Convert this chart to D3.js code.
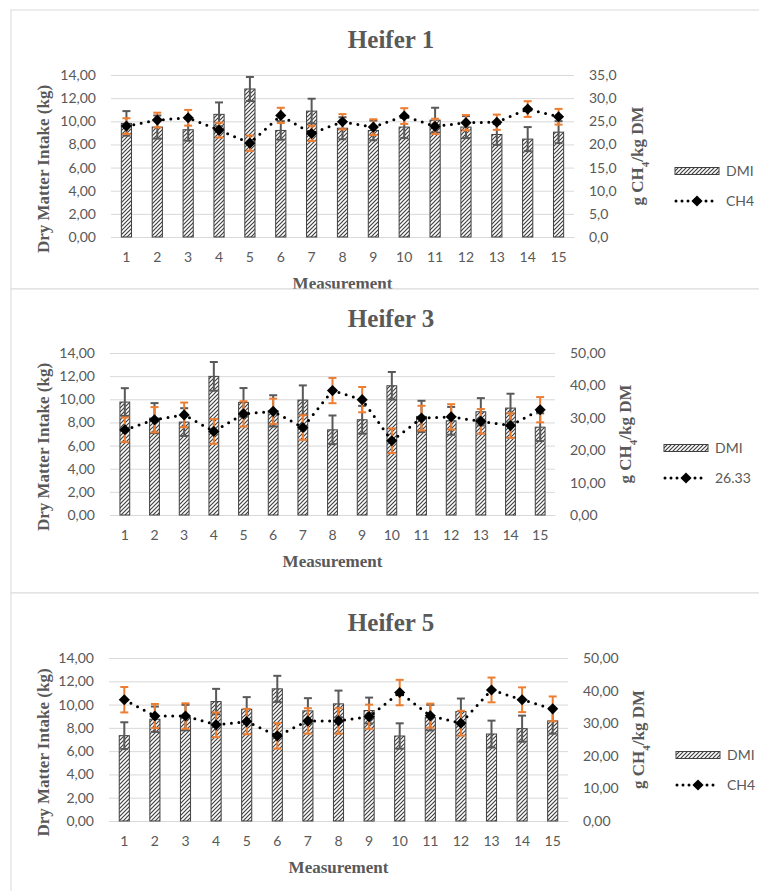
<!DOCTYPE html>
<html lang="en">
<head>
<meta charset="UTF-8">
<title>Heifer DMI and CH4</title>
<style>
    body { margin: 0; background: #fff; }
    svg text { fill: #595959; }
    .tick-label { font-family: Lato, "Open Sans", sans-serif; font-size: 14px; }
    .axis-title { font-family: "Liberation Serif", "DejaVu Serif", serif; font-weight: bold; font-size: 17px; }
    .chart-title { font-family: "Liberation Serif", "DejaVu Serif", serif; font-weight: bold; font-size: 25px; }
</style>
</head>
<body>
<svg id="chart"></svg>

<script src="https://cdn.jsdelivr.net/npm/d3@7"></script>
<script>
    // Data
    const measurements = ["1", "2", "3", "4", "5", "6", "7", "8", "9", "10", "11", "12", "13", "14", "15"];
    const dmiTicks = [0, 2, 4, 6, 8, 10, 12, 14];

    const heifer1Dmi = [9.82, 9.50, 9.27, 10.60, 12.79, 9.21, 10.88, 9.40, 9.21, 9.50, 10.10, 9.50, 8.86, 8.46, 9.06];
    const heifer1DmiErr = [1.06, 1.00, 0.95, 1.03, 1.04, 0.80, 1.07, 0.95, 0.85, 0.95, 1.07, 0.95, 0.90, 1.04, 0.95];
    const heifer1Ch4 = [23.96, 25.26, 25.76, 23.10, 20.28, 26.27, 22.37, 24.90, 23.74, 26.13, 23.90, 24.70, 24.80, 27.64, 25.98];
    const heifer1Ch4Err = [1.70, 1.60, 1.70, 1.60, 1.65, 1.65, 1.65, 1.65, 1.70, 1.70, 1.65, 1.65, 1.65, 1.70, 1.70];
    const heifer1Ch4Ticks = [0, 5, 10, 15, 20, 25, 30, 35];

    const heifer3Dmi = [9.76, 8.37, 8.03, 11.98, 9.73, 9.00, 9.93, 7.36, 8.23, 11.17, 8.52, 8.14, 8.92, 9.24, 7.59];
    const heifer3DmiErr = [1.20, 1.30, 1.20, 1.24, 1.24, 1.35, 1.27, 1.24, 1.20, 1.19, 1.35, 1.20, 1.18, 1.24, 1.20];
    const heifer3Ch4 = [26.3, 29.4, 30.9, 25.8, 31.2, 32.0, 27.0, 38.4, 35.6, 22.9, 29.9, 30.3, 28.9, 27.6, 32.5];
    const heifer3Ch4Err = [3.8, 3.9, 3.8, 3.8, 3.9, 3.9, 3.8, 3.9, 3.9, 3.8, 3.8, 3.9, 3.8, 3.8, 3.9];
    const heifer3Ch4Ticks = [0, 10, 20, 30, 40, 50];

    const heifer5Dmi = [7.33, 8.74, 8.88, 10.26, 9.60, 11.35, 9.46, 10.06, 9.49, 7.30, 8.88, 9.40, 7.47, 7.93, 8.60];
    const heifer5DmiErr = [1.15, 1.09, 1.10, 1.09, 1.04, 1.12, 1.09, 1.14, 1.11, 1.09, 1.10, 1.12, 1.15, 1.12, 1.10];
    const heifer5Ch4 = [37.2, 32.2, 32.2, 29.5, 30.5, 26.1, 30.7, 30.7, 32.0, 39.4, 32.3, 30.0, 40.2, 37.2, 34.4];
    const heifer5Ch4Err = [3.9, 3.7, 3.9, 3.8, 3.9, 3.9, 3.9, 3.9, 3.7, 3.9, 3.7, 3.8, 3.8, 3.8, 3.8];
    const heifer5Ch4Ticks = [0, 10, 20, 30, 40, 50];

    const titles = ["Heifer 1", "Heifer 3", "Heifer 5"];
    const legendLabels = [["DMI", "CH4"], ["DMI", "26.33"], ["DMI", "CH4"]];

    // Layout of the three stacked panels
    const panels = [
        { dmi: heifer1Dmi, dmiErr: heifer1DmiErr, ch4: heifer1Ch4, ch4Err: heifer1Ch4Err, ch4Ticks: heifer1Ch4Ticks, ch4Fmt: ".1f",
          top: 10, x0: 111, x1: 574, yTop: 75, yBot: 237, rightTitleX: 637, legendX: 675, legendY: 171 },
        { dmi: heifer3Dmi, dmiErr: heifer3DmiErr, ch4: heifer3Ch4, ch4Err: heifer3Ch4Err, ch4Ticks: heifer3Ch4Ticks, ch4Fmt: ".2f",
          top: 289, x0: 110, x1: 555, yTop: 353, yBot: 515, rightTitleX: 625, legendX: 664, legendY: 448 },
        { dmi: heifer5Dmi, dmiErr: heifer5DmiErr, ch4: heifer5Ch4, ch4Err: heifer5Ch4Err, ch4Ticks: heifer5Ch4Ticks, ch4Fmt: ".2f",
          top: 593, x0: 109, x1: 568, yTop: 658, yBot: 821, rightTitleX: 638, legendX: 676, legendY: 755 }
    ];

    const W = 759, H = 891;
    const grey = "#595959", orange = "#ED7D31", gridColor = "#d9d9d9";
    const locale = d3.formatLocale({ decimal: ",", thousands: ".", grouping: [3], currency: ["", ""] });

    const svg = d3.select("#chart").attr("width", W).attr("height", H);

    // Hatch pattern for the DMI bars
    const defs = svg.append("defs");
    defs.append("pattern")
        .attr("id", "hatch")
        .attr("patternUnits", "userSpaceOnUse")
        .attr("width", 4).attr("height", 4)
        .call(p => p.append("rect").attr("width", 4).attr("height", 4).attr("fill", "#fff"))
        .append("path")
        .attr("d", "M-1,1 l2,-2 M0,4 l4,-4 M3,5 l2,-2")
        .attr("stroke", "#404040")
        .attr("stroke-width", 1.2);

    const diamond = d3.symbol(d3.symbolSquare, 62);

    const drawPanel = (p, i) => {
        const g = svg.append("g");
        const bottom = i < panels.length - 1 ? panels[i + 1].top : H + 20;

        // panel frame
        g.append("rect")
            .attr("x", 11).attr("y", p.top)
            .attr("width", 780).attr("height", bottom - p.top)
            .attr("fill", "#fff")
            .attr("stroke", gridColor);

        const x = d3.scaleBand().domain(measurements).range([p.x0, p.x1]);
        const yL = d3.scaleLinear().domain([0, 14]).range([p.yBot, p.yTop]);
        const yR = d3.scaleLinear().domain([0, d3.max(p.ch4Ticks)]).range([p.yBot, p.yTop]);
        const cx = d => x(d) + x.bandwidth() / 2;

        // left axis + gridlines
        g.append("g")
            .attr("transform", `translate(${p.x0},0)`)
            .call(d3.axisLeft(yL).tickValues(dmiTicks).tickFormat(locale.format(".2f"))
                .tickSize(-(p.x1 - p.x0)).tickPadding(15))
            .call(a => a.select(".domain").remove())
            .call(a => a.selectAll("line").attr("stroke", gridColor))
            .call(a => a.selectAll("text").attr("class", "tick-label").attr("fill", grey));

        // right axis
        g.append("g")
            .attr("transform", `translate(${p.x1},0)`)
            .call(d3.axisRight(yR).tickValues(p.ch4Ticks).tickFormat(locale.format(p.ch4Fmt))
                .tickSize(0).tickPadding(15))
            .call(a => a.select(".domain").remove())
            .call(a => a.selectAll("text").attr("class", "tick-label").attr("fill", grey));

        // bottom axis
        g.append("g")
            .attr("transform", `translate(0,${p.yBot})`)
            .call(d3.axisBottom(x).tickSize(0).tickPadding(15))
            .call(a => a.select(".domain").attr("stroke", gridColor))
            .call(a => a.selectAll("text").attr("class", "tick-label").attr("fill", grey));

        // DMI bars
        const bw = x.bandwidth() * 0.33;
        g.append("g").selectAll("rect")
            .data(p.dmi)
            .join("rect")
            .attr("x", (d, j) => cx(measurements[j]) - bw / 2)
            .attr("y", d => yL(d))
            .attr("width", bw)
            .attr("height", d => p.yBot - yL(d))
            .attr("fill", "url(#hatch)")
            .attr("stroke", "#404040")
            .attr("stroke-width", 1);

        // error bars helper
        const errorBars = (vals, errs, scale, color, width) => {
            const eg = g.append("g").attr("stroke", color).attr("stroke-width", width);
            vals.forEach((v, j) => {
                const xc = cx(measurements[j]);
                const hi = scale(v + errs[j]), lo = scale(v - errs[j]);
                eg.append("line").attr("x1", xc).attr("x2", xc).attr("y1", hi).attr("y2", lo);
                eg.append("line").attr("x1", xc - 4).attr("x2", xc + 4).attr("y1", hi).attr("y2", hi);
                eg.append("line").attr("x1", xc - 4).attr("x2", xc + 4).attr("y1", lo).attr("y2", lo);
            });
        };
        errorBars(p.dmi, p.dmiErr, yL, grey, 2);

        // CH4 dotted line
        const line = d3.line().x((d, j) => cx(measurements[j])).y(d => yR(d));
        g.append("path")
            .datum(p.ch4)
            .attr("d", line)
            .attr("fill", "none")
            .attr("stroke", "#000")
            .attr("stroke-width", 3)
            .attr("stroke-linecap", "round")
            .attr("stroke-dasharray", "0 7.5");

        errorBars(p.ch4, p.ch4Err, yR, orange, 2);

        g.append("g").selectAll("path")
            .data(p.ch4)
            .join("path")
            .attr("d", diamond)
            .attr("transform", (d, j) => `translate(${cx(measurements[j])},${yR(d)}) rotate(45)`)
            .attr("fill", "#000");

        // titles
        g.append("text")
            .attr("class", "chart-title")
            .attr("x", 391).attr("y", p.top + 38)
            .attr("text-anchor", "middle")
            .text(titles[i]);

        g.append("text")
            .attr("class", "axis-title")
            .attr("x", (p.x0 + p.x1) / 2).attr("y", p.yBot + 52)
            .attr("text-anchor", "middle")
            .text("Measurement");

        g.append("text")
            .attr("class", "axis-title")
            .attr("transform", `translate(49,${(p.yTop + p.yBot) / 2 + 13}) rotate(-90)`)
            .attr("text-anchor", "middle")
            .text("Dry Matter Intake (kg)");

        const rt = g.append("text")
            .attr("class", "axis-title")
            .attr("transform", `translate(${p.rightTitleX + 6},${(p.yTop + p.yBot) / 2}) rotate(-90)`)
            .attr("text-anchor", "middle");
        rt.append("tspan").text("g CH");
        rt.append("tspan").attr("baseline-shift", "sub").attr("font-size", "11px").text("4");
        rt.append("tspan").text("/kg DM");

        // legend
        const lg = g.append("g").attr("transform", `translate(${p.legendX},${p.legendY})`);
        lg.append("rect")
            .attr("x", 0).attr("y", -3.5)
            .attr("width", 44).attr("height", 7)
            .attr("fill", "url(#hatch)")
            .attr("stroke", "#404040");
        lg.append("text")
            .attr("class", "tick-label")
            .attr("x", 51).attr("y", 0).attr("dy", "0.35em")
            .text(legendLabels[i][0]);

        lg.append("line")
            .attr("x1", 1).attr("x2", 43).attr("y1", 30).attr("y2", 30)
            .attr("stroke", "#000").attr("stroke-width", 3)
            .attr("stroke-linecap", "round").attr("stroke-dasharray", "0 6");
        lg.append("path")
            .attr("d", diamond)
            .attr("transform", "translate(22,30) rotate(45)")
            .attr("fill", "#000");
        lg.append("text")
            .attr("class", "tick-label")
            .attr("x", 51).attr("y", 30).attr("dy", "0.35em")
            .text(legendLabels[i][1]);
    };

    panels.forEach(drawPanel);
</script>
</body>
</html>
